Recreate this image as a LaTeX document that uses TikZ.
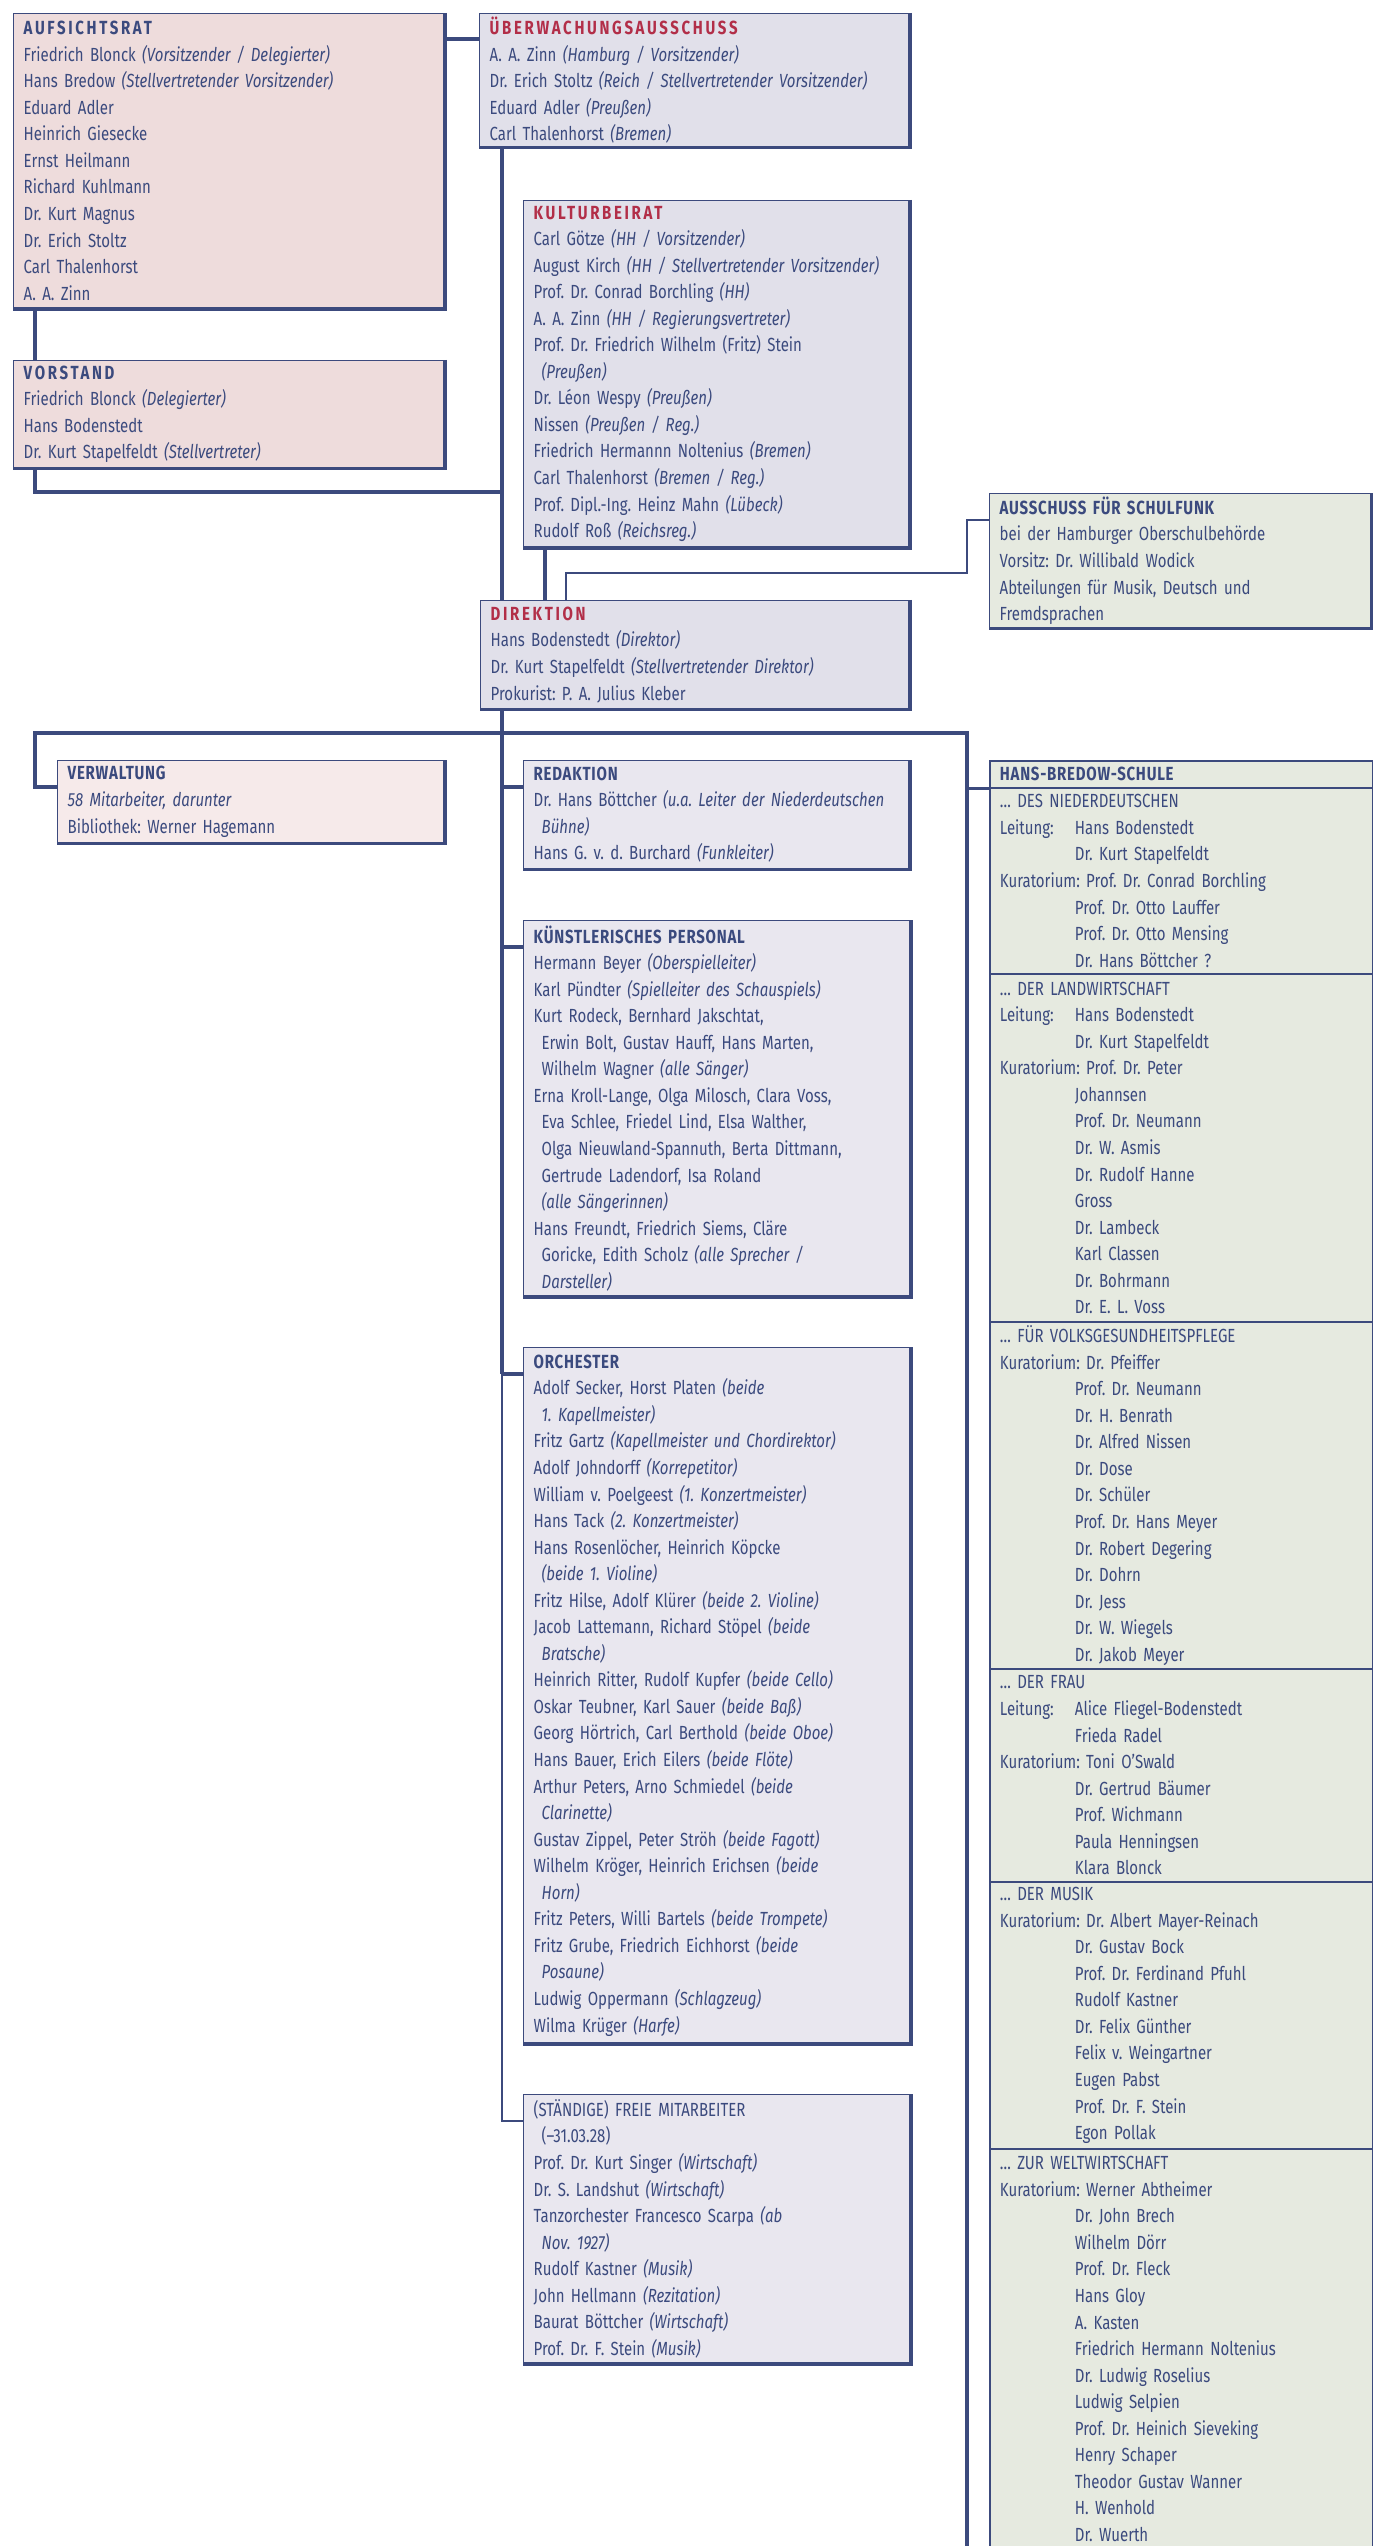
\documentclass[tikz,border=0pt]{standalone}
\usepackage{fontspec}
\setmainfont{Fira Sans}[FakeStretch=0.79]
\usepackage{tikz}

\definecolor{schrift}{HTML}{3B4A7E}
\definecolor{linie}{HTML}{3C4A7D}
\definecolor{rot}{HTML}{B22E48}
\definecolor{rosa}{HTML}{EEDCDC}
\definecolor{hellrosa}{HTML}{F6EAEA}
\definecolor{lila}{HTML}{E1E0EA}
\definecolor{helllila}{HTML}{E9E7EF}
\definecolor{gruen}{HTML}{E6EAE0}

\newcommand\orgfont{\fontsize{5.4}{7.55}\selectfont\frenchspacing}
\newcommand\kopf[1]{\textbf{\addfontfeature{LetterSpace=4}#1}}
\newcommand\wkopf[1]{\textbf{\addfontfeature{LetterSpace=14}#1}}
\newcommand\rkopf[1]{\textcolor{rot}{\textbf{\addfontfeature{LetterSpace=14}#1}}}
\newcommand\ein{\hspace*{0.08cm}}
\newcommand\tb{\hspace*{0.75cm}}
\newcommand\lab[1]{\makebox[0.75cm][l]{#1}}

\begin{document}
\begin{tikzpicture}[x=0.01cm,y=-0.01cm,
  orgbox/.style={draw=linie,line width=0.4pt,anchor=north west,align=left,
    inner xsep=0.1cm,inner ysep=0pt,text=schrift,font=\orgfont,
    append after command={\pgfextra{\draw[linie,line width=1.1pt]
      (\tikzlastnode.north east) -- (\tikzlastnode.south east) -- (\tikzlastnode.south west);}}},
  hbsbox/.style={draw=linie,line width=0.5pt,fill=gruen,anchor=north west,align=left,
    inner xsep=0.1cm,inner ysep=0pt,text=schrift,font=\orgfont,text width=3.63cm},
  conn/.style={draw=linie,line width=0.9pt},
  thinconn/.style={draw=linie,line width=0.45pt}]

\useasboundingbox (0,0) rectangle (1372,2546);

\node[orgbox,fill=rosa,text width=4.1cm,minimum height=2.94cm] (aufsichtsrat) at (13,13) {\wkopf{AUFSICHTSRAT}\\
Friedrich Blonck \textit{(Vorsitzender / Delegierter)}\\
Hans Bredow \textit{(Stellvertretender Vorsitzender)}\\
Eduard Adler\\
Heinrich Giesecke\\
Ernst Heilmann\\
Richard Kuhlmann\\
Dr. Kurt Magnus\\
Dr. Erich Stoltz\\
Carl Thalenhorst\\
A. A. Zinn};

\node[orgbox,fill=rosa,text width=4.1cm,minimum height=1.07cm] (vorstand) at (13,360) {\wkopf{VORSTAND}\\
Friedrich Blonck \textit{(Delegierter)}\\
Hans Bodenstedt\\
Dr. Kurt Stapelfeldt \textit{(Stellvertreter)}};

\node[orgbox,fill=lila,text width=4.09cm,minimum height=1.33cm] (ueberwachung) at (479,13) {\rkopf{ÜBERWACHUNGSAUSSCHUSS}\\
A. A. Zinn \textit{(Hamburg / Vorsitzender)}\\
Dr. Erich Stoltz \textit{(Reich / Stellvertretender Vorsitzender)}\\
Eduard Adler \textit{(Preußen)}\\
Carl Thalenhorst \textit{(Bremen)}};

\node[orgbox,fill=lila,text width=3.65cm,minimum height=3.46cm] (kulturbeirat) at (523,200) {\rkopf{KULTURBEIRAT}\\
Carl Götze \textit{(HH / Vorsitzender)}\\
August Kirch \textit{(HH / Stellvertretender Vorsitzender)}\\
Prof. Dr. Conrad Borchling \textit{(HH)}\\
A. A. Zinn \textit{(HH / Regierungsvertreter)}\\
Prof. Dr. Friedrich Wilhelm (Fritz) Stein\\
\ein\textit{(Preußen)}\\
Dr. Léon Wespy \textit{(Preußen)}\\
Nissen \textit{(Preußen / Reg.)}\\
Friedrich Hermannn Noltenius \textit{(Bremen)}\\
Carl Thalenhorst \textit{(Bremen / Reg.)}\\
Prof. Dipl.-Ing. Heinz Mahn \textit{(Lübeck)}\\
Rudolf Roß \textit{(Reichsreg.)}};

\node[orgbox,fill=gruen,text width=3.61cm,minimum height=1.34cm] (schulfunk) at (989,493) {\kopf{AUSSCHUSS FÜR SCHULFUNK}\\
bei der Hamburger Oberschulbehörde\\
Vorsitz: Dr. Willibald Wodick\\
Abteilungen für Musik, Deutsch und\\
Fremdsprachen};

\node[orgbox,fill=lila,text width=4.08cm,minimum height=1.08cm] (direktion) at (480,600) {\rkopf{DIREKTION}\\
Hans Bodenstedt \textit{(Direktor)}\\
Dr. Kurt Stapelfeldt \textit{(Stellvertretender Direktor)}\\
Prokurist: P. A. Julius Kleber};

\node[orgbox,fill=hellrosa,text width=3.66cm,minimum height=0.82cm] (verwaltung) at (57,760) {\kopf{VERWALTUNG}\\
\textit{58 Mitarbeiter, darunter}\\
Bibliothek: Werner Hagemann};

\node[orgbox,fill=helllila,text width=3.65cm,minimum height=1.08cm] (redaktion) at (523,760) {\kopf{REDAKTION}\\
Dr. Hans Böttcher \textit{(u.a. Leiter der Niederdeutschen}\\
\ein\textit{Bühne)}\\
Hans G. v. d. Burchard \textit{(Funkleiter)}};

\node[orgbox,fill=helllila,text width=3.66cm,minimum height=3.75cm] (kuenstler) at (523,920) {\kopf{KÜNSTLERISCHES PERSONAL}\\
Hermann Beyer \textit{(Oberspielleiter)}\\
Karl Pündter \textit{(Spielleiter des Schauspiels)}\\
Kurt Rodeck, Bernhard Jakschtat,\\
\ein Erwin Bolt, Gustav Hauff, Hans Marten,\\
\ein Wilhelm Wagner \textit{(alle Sänger)}\\
Erna Kroll-Lange, Olga Milosch, Clara Voss,\\
\ein Eva Schlee, Friedel Lind, Elsa Walther,\\
\ein Olga Nieuwland-Spannuth, Berta Dittmann,\\
\ein Gertrude Ladendorf, Isa Roland\\
\ein\textit{(alle Sängerinnen)}\\
Hans Freundt, Friedrich Siems, Cläre\\
\ein Goricke, Edith Scholz \textit{(alle Sprecher /}\\
\ein\textit{Darsteller)}};

\node[orgbox,fill=helllila,text width=3.66cm,minimum height=6.95cm] (orchester) at (523,1347) {\kopf{ORCHESTER}\\
Adolf Secker, Horst Platen \textit{(beide}\\
\ein\textit{1. Kapellmeister)}\\
Fritz Gartz \textit{(Kapellmeister und Chordirektor)}\\
Adolf Johndorff \textit{(Korrepetitor)}\\
William v. Poelgeest \textit{(1. Konzertmeister)}\\
Hans Tack \textit{(2. Konzertmeister)}\\
Hans Rosenlöcher, Heinrich Köpcke\\
\ein\textit{(beide 1. Violine)}\\
Fritz Hilse, Adolf Klürer \textit{(beide 2. Violine)}\\
Jacob Lattemann, Richard Stöpel \textit{(beide}\\
\ein\textit{Bratsche)}\\
Heinrich Ritter, Rudolf Kupfer \textit{(beide Cello)}\\
Oskar Teubner, Karl Sauer \textit{(beide Baß)}\\
Georg Hörtrich, Carl Berthold \textit{(beide Oboe)}\\
Hans Bauer, Erich Eilers \textit{(beide Flöte)}\\
Arthur Peters, Arno Schmiedel \textit{(beide}\\
\ein\textit{Clarinette)}\\
Gustav Zippel, Peter Ströh \textit{(beide Fagott)}\\
Wilhelm Kröger, Heinrich Erichsen \textit{(beide}\\
\ein\textit{Horn)}\\
Fritz Peters, Willi Bartels \textit{(beide Trompete)}\\
Fritz Grube, Friedrich Eichhorst \textit{(beide}\\
\ein\textit{Posaune)}\\
Ludwig Oppermann \textit{(Schlagzeug)}\\
Wilma Krüger \textit{(Harfe)}};

\node[orgbox,fill=helllila,text width=3.66cm,minimum height=2.68cm] (freie) at (523,2094) {(STÄNDIGE) FREIE MITARBEITER\\
\ein(–31.03.28)\\
Prof. Dr. Kurt Singer \textit{(Wirtschaft)}\\
Dr. S. Landshut \textit{(Wirtschaft)}\\
Tanzorchester Francesco Scarpa \textit{(ab}\\
\ein\textit{Nov. 1927)}\\
Rudolf Kastner \textit{(Musik)}\\
John Hellmann \textit{(Rezitation)}\\
Baurat Böttcher \textit{(Wirtschaft)}\\
Prof. Dr. F. Stein \textit{(Musik)}};

\node[hbsbox,minimum height=0.27cm] (hbskopf) at (989,760) {\kopf{HANS-BREDOW-SCHULE}};

\node[hbsbox,minimum height=1.86cm] (niederdeutsch) at (989,787) {\dots\ DES NIEDERDEUTSCHEN\\
\lab{Leitung:}Hans Bodenstedt\\
\tb Dr. Kurt Stapelfeldt\\
Kuratorium: Prof. Dr. Conrad Borchling\\
\tb Prof. Dr. Otto Lauffer\\
\tb Prof. Dr. Otto Mensing\\
\tb Dr. Hans Böttcher ?};

\node[hbsbox,minimum height=3.48cm] (landwirtschaft) at (989,973) {\dots\ DER LANDWIRTSCHAFT\\
\lab{Leitung:}Hans Bodenstedt\\
\tb Dr. Kurt Stapelfeldt\\
Kuratorium: Prof. Dr. Peter\\
\tb Johannsen\\
\tb Prof. Dr. Neumann\\
\tb Dr. W. Asmis\\
\tb Dr. Rudolf Hanne\\
\tb Gross\\
\tb Dr. Lambeck\\
\tb Karl Classen\\
\tb Dr. Bohrmann\\
\tb Dr. E. L. Voss};

\node[hbsbox,minimum height=3.47cm] (volksgesundheit) at (989,1321) {\dots\ FÜR VOLKSGESUNDHEITSPFLEGE\\
Kuratorium: Dr. Pfeiffer\\
\tb Prof. Dr. Neumann\\
\tb Dr. H. Benrath\\
\tb Dr. Alfred Nissen\\
\tb Dr. Dose\\
\tb Dr. Schüler\\
\tb Prof. Dr. Hans Meyer\\
\tb Dr. Robert Degering\\
\tb Dr. Dohrn\\
\tb Dr. Jess\\
\tb Dr. W. Wiegels\\
\tb Dr. Jakob Meyer};

\node[hbsbox,minimum height=2.13cm] (frau) at (989,1668) {\dots\ DER FRAU\\
\lab{Leitung:}Alice Fliegel-Bodenstedt\\
\tb Frieda Radel\\
Kuratorium: Toni O’Swald\\
\tb Dr. Gertrud Bäumer\\
\tb Prof. Wichmann\\
\tb Paula Henningsen\\
\tb Klara Blonck};

\node[hbsbox,minimum height=2.67cm] (musik) at (989,1881) {\dots\ DER MUSIK\\
Kuratorium: Dr. Albert Mayer-Reinach\\
\tb Dr. Gustav Bock\\
\tb Prof. Dr. Ferdinand Pfuhl\\
\tb Rudolf Kastner\\
\tb Dr. Felix Günther\\
\tb Felix v. Weingartner\\
\tb Eugen Pabst\\
\tb Prof. Dr. F. Stein\\
\tb Egon Pollak};

\node[hbsbox,minimum height=4.0cm] (weltwirtschaft) at (989,2148) {\dots\ ZUR WELTWIRTSCHAFT\\
Kuratorium: Werner Abtheimer\\
\tb Dr. John Brech\\
\tb Wilhelm Dörr\\
\tb Prof. Dr. Fleck\\
\tb Hans Gloy\\
\tb A. Kasten\\
\tb Friedrich Hermann Noltenius\\
\tb Dr. Ludwig Roselius\\
\tb Ludwig Selpien\\
\tb Prof. Dr. Heinich Sieveking\\
\tb Henry Schaper\\
\tb Theodor Gustav Wanner\\
\tb H. Wenhold\\
\tb Dr. Wuerth};

\coordinate (spine) at (502,0);
\coordinate (lft) at (35,0);
\coordinate (kb) at (545,0);
\coordinate (barl) at (35,733);
\coordinate (barr) at (967,733);
\coordinate (sf1) at (967,520);
\coordinate (sf2) at (566,573);

\draw[conn] (aufsichtsrat.east |- 0,39) -- (ueberwachung.west |- 0,39);
\draw[conn] (aufsichtsrat.south -| lft) -- (vorstand.north -| lft);
\draw[conn] (vorstand.south -| lft) |- (spine |- 0,492);
\draw[conn] (ueberwachung.south -| spine) -- (direktion.north -| spine);
\draw[conn] (kulturbeirat.south -| kb) -- (direktion.north -| kb);
\draw[thinconn] (schulfunk.west |- sf1) -- (sf1) |- (sf2) -- (direktion.north -| sf2);

\draw[conn] (direktion.south -| spine) -- (spine |- 0,1374);
\draw[thinconn] (spine |- 0,1374) |- ([yshift=-0.27cm]freie.north west);
\foreach \n in {redaktion,kuenstler,orchester}
  \draw[conn] ([yshift=-0.27cm]\n.north west) -- ++(-21,0);

\draw[conn] ([yshift=-0.27cm]verwaltung.north west) -| (barl) -- (barr) |- (hbskopf.south west);
\draw[conn] (hbskopf.south west -| barr) -- (barr |- 0,2560);
\end{tikzpicture}
\end{document}
